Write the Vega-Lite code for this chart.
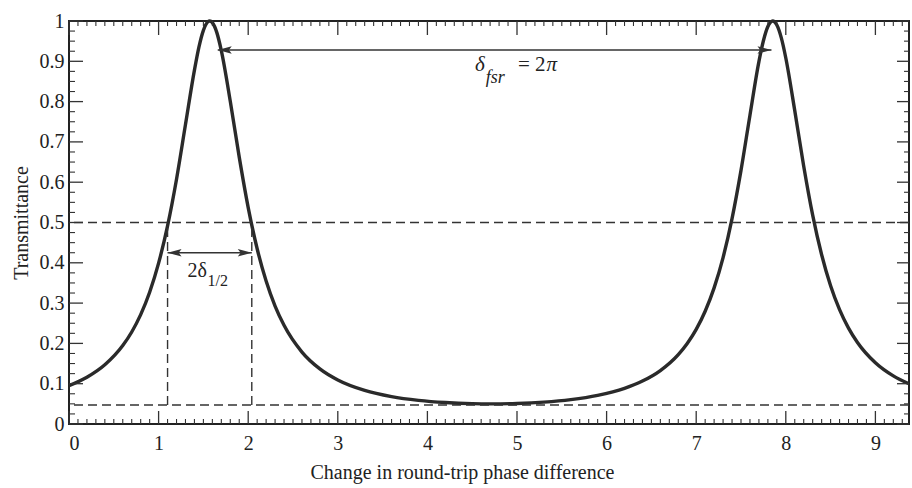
{
  "$schema": "https://vega.github.io/schema/vega-lite/v6.json",
  "width": 840,
  "height": 403,
  "autosize": {"type": "none"},
  "padding": {"left": 69, "top": 21, "right": 3, "bottom": 64},
  "background": "white",
  "config": {
    "view": {"stroke": "#222", "strokeWidth": 2},
    "axis": {
      "domain": false,
      "grid": false,
      "ticks": false,
      "labelFont": "Liberation Serif",
      "titleFont": "Liberation Serif",
      "labelColor": "#222",
      "titleColor": "#222",
      "labelFontSize": 20,
      "titleFontSize": 20,
      "titleFontWeight": "normal"
    }
  },
  "datasets": {
    "curve": [
      {"x": 0, "t": 0.0952}, {"x": 0.2, "t": 0.1161}, {"x": 0.4, "t": 0.147}, {"x": 0.6, "t": 0.1947},
      {"x": 0.7, "t": 0.2283}, {"x": 0.8, "t": 0.2714}, {"x": 0.9, "t": 0.3269}, {"x": 1.0, "t": 0.3991},
      {"x": 1.1, "t": 0.4917}, {"x": 1.2, "t": 0.6075}, {"x": 1.3, "t": 0.7431}, {"x": 1.4, "t": 0.8782},
      {"x": 1.45, "t": 0.9352}, {"x": 1.5, "t": 0.9768}, {"x": 1.55, "t": 0.9979}, {"x": 1.5708, "t": 1},
      {"x": 1.6, "t": 0.9959}, {"x": 1.65, "t": 0.9712}, {"x": 1.7, "t": 0.9266}, {"x": 1.8, "t": 0.801},
      {"x": 1.9, "t": 0.6622}, {"x": 2.0, "t": 0.5371}, {"x": 2.1, "t": 0.4349}, {"x": 2.2, "t": 0.3547},
      {"x": 2.3, "t": 0.2927}, {"x": 2.4, "t": 0.2449}, {"x": 2.6, "t": 0.1785}, {"x": 2.8, "t": 0.1367},
      {"x": 3.0, "t": 0.1092}, {"x": 3.3, "t": 0.0833}, {"x": 3.6, "t": 0.068}, {"x": 3.9, "t": 0.0587},
      {"x": 4.2, "t": 0.0532}, {"x": 4.5, "t": 0.0505}, {"x": 4.712, "t": 0.05}, {"x": 5.0, "t": 0.051},
      {"x": 5.3, "t": 0.0543}, {"x": 5.6, "t": 0.0606}, {"x": 5.9, "t": 0.0712}, {"x": 6.2, "t": 0.0886},
      {"x": 6.4, "t": 0.1065}, {"x": 6.6, "t": 0.1326}, {"x": 6.8, "t": 0.1722}, {"x": 6.9, "t": 0.1998},
      {"x": 7.0, "t": 0.2348}, {"x": 7.1, "t": 0.2798}, {"x": 7.2, "t": 0.3378}, {"x": 7.3, "t": 0.413},
      {"x": 7.4, "t": 0.5096}, {"x": 7.5, "t": 0.6293}, {"x": 7.6, "t": 0.7663}, {"x": 7.7, "t": 0.8992},
      {"x": 7.75, "t": 0.9509}, {"x": 7.8, "t": 0.9863}, {"x": 7.854, "t": 1}, {"x": 7.9, "t": 0.99},
      {"x": 7.95, "t": 0.958}, {"x": 8.0, "t": 0.9082}, {"x": 8.1, "t": 0.7776}, {"x": 8.2, "t": 0.6398},
      {"x": 8.3, "t": 0.5183}, {"x": 8.4, "t": 0.4199}, {"x": 8.5, "t": 0.3431}, {"x": 8.6, "t": 0.2838},
      {"x": 8.7, "t": 0.238}, {"x": 8.8, "t": 0.2023}, {"x": 9.0, "t": 0.1519}, {"x": 9.2, "t": 0.1193},
      {"x": 9.375, "t": 0.0997}
    ],
    "xMajor": [{"v": 0}, {"v": 1}, {"v": 2}, {"v": 3}, {"v": 4}, {"v": 5}, {"v": 6}, {"v": 7}, {"v": 8}, {"v": 9}],
    "xMinor": [
      {"v": 0.1}, {"v": 0.2}, {"v": 0.3}, {"v": 0.4}, {"v": 0.5}, {"v": 0.6}, {"v": 0.7}, {"v": 0.8}, {"v": 0.9},
      {"v": 1.1}, {"v": 1.2}, {"v": 1.3}, {"v": 1.4}, {"v": 1.5}, {"v": 1.6}, {"v": 1.7}, {"v": 1.8}, {"v": 1.9},
      {"v": 2.1}, {"v": 2.2}, {"v": 2.3}, {"v": 2.4}, {"v": 2.5}, {"v": 2.6}, {"v": 2.7}, {"v": 2.8}, {"v": 2.9},
      {"v": 3.1}, {"v": 3.2}, {"v": 3.3}, {"v": 3.4}, {"v": 3.5}, {"v": 3.6}, {"v": 3.7}, {"v": 3.8}, {"v": 3.9},
      {"v": 4.1}, {"v": 4.2}, {"v": 4.3}, {"v": 4.4}, {"v": 4.5}, {"v": 4.6}, {"v": 4.7}, {"v": 4.8}, {"v": 4.9},
      {"v": 5.1}, {"v": 5.2}, {"v": 5.3}, {"v": 5.4}, {"v": 5.5}, {"v": 5.6}, {"v": 5.7}, {"v": 5.8}, {"v": 5.9},
      {"v": 6.1}, {"v": 6.2}, {"v": 6.3}, {"v": 6.4}, {"v": 6.5}, {"v": 6.6}, {"v": 6.7}, {"v": 6.8}, {"v": 6.9},
      {"v": 7.1}, {"v": 7.2}, {"v": 7.3}, {"v": 7.4}, {"v": 7.5}, {"v": 7.6}, {"v": 7.7}, {"v": 7.8}, {"v": 7.9},
      {"v": 8.1}, {"v": 8.2}, {"v": 8.3}, {"v": 8.4}, {"v": 8.5}, {"v": 8.6}, {"v": 8.7}, {"v": 8.8}, {"v": 8.9},
      {"v": 9.1}, {"v": 9.2}, {"v": 9.3}
    ],
    "yMajor": [{"v": 0}, {"v": 0.1}, {"v": 0.2}, {"v": 0.3}, {"v": 0.4}, {"v": 0.5}, {"v": 0.6}, {"v": 0.7}, {"v": 0.8}, {"v": 0.9}, {"v": 1}],
    "yMinor": [
      {"v": 0.025}, {"v": 0.05}, {"v": 0.075}, {"v": 0.125}, {"v": 0.15}, {"v": 0.175}, {"v": 0.225}, {"v": 0.25}, {"v": 0.275},
      {"v": 0.325}, {"v": 0.35}, {"v": 0.375}, {"v": 0.425}, {"v": 0.45}, {"v": 0.475}, {"v": 0.525}, {"v": 0.55}, {"v": 0.575},
      {"v": 0.625}, {"v": 0.65}, {"v": 0.675}, {"v": 0.725}, {"v": 0.75}, {"v": 0.775}, {"v": 0.825}, {"v": 0.85}, {"v": 0.875},
      {"v": 0.925}, {"v": 0.95}, {"v": 0.975}
    ],
    "hlines": [{"y": 0.5}, {"y": 0.047}],
    "vlines": [{"x": 1.1, "y": 0.047, "y2": 0.5}, {"x": 2.04, "y": 0.047, "y2": 0.5}],
    "arrows": [{"x": 1.66, "x2": 7.84, "y": 0.928}, {"x": 1.1, "x2": 2.04, "y": 0.425}],
    "headsLeft": [{"x": 1.66, "y": 0.928}, {"x": 1.1, "y": 0.425}],
    "headsRight": [{"x": 7.84, "y": 0.928}, {"x": 2.04, "y": 0.425}],
    "mainItalic": [{"x": 4.53, "y": 0.876, "s": "δ"}, {"x": 5.33, "y": 0.876, "s": "π"}],
    "subItalic": [{"x": 4.65, "y": 0.845, "s": "fsr"}],
    "mainText": [{"x": 5.011, "y": 0.876, "s": "= 2"}],
    "halfMain": [{"x": 1.54, "y": 0.365, "s": "2δ"}],
    "halfSub": [{"x": 1.545, "y": 0.342, "s": "1/2"}]
  },
  "layer": [
    {
      "data": {"name": "curve"},
      "mark": {"type": "line", "interpolate": "monotone", "strokeWidth": 3.4, "color": "#2a2a2a"},
      "encoding": {
        "x": {
          "field": "x", "type": "quantitative",
          "scale": {"domain": [0, 9.375], "nice": false, "zero": false},
          "axis": {
            "orient": "bottom", "values": [0, 1, 2, 3, 4, 5, 6, 7, 8, 9], "labelPadding": 9,
            "title": "Change in round-trip phase difference", "titleX": 393, "titleY": 54,
            "titleBaseline": "alphabetic", "titleAlign": "center"
          }
        },
        "y": {
          "field": "t", "type": "quantitative",
          "scale": {"domain": [0, 1], "nice": false, "zero": false},
          "axis": {
            "orient": "left", "values": [0, 0.1, 0.2, 0.3, 0.4, 0.5, 0.6, 0.7, 0.8, 0.9, 1],
            "labelPadding": 5, "format": "~g",
            "title": "Transmittance", "titleX": -42, "titleY": 201.5, "titleAngle": 270,
            "titleBaseline": "alphabetic", "titleAlign": "center"
          }
        }
      }
    },
    {
      "data": {"name": "xMajor"},
      "mark": {"type": "tick", "orient": "vertical", "size": 13, "thickness": 1.3, "yOffset": -6.5, "color": "#333", "opacity": 1},
      "encoding": {
        "x": {"field": "v", "type": "quantitative", "scale": {"domain": [0, 9.375], "nice": false, "zero": false}, "axis": null},
        "y": {"datum": 0, "type": "quantitative", "scale": {"domain": [0, 1], "nice": false, "zero": false}, "axis": null}
      }
    },
    {
      "data": {"name": "xMajor"},
      "mark": {"type": "tick", "orient": "vertical", "size": 14, "thickness": 1.3, "yOffset": 7, "color": "#333", "opacity": 1},
      "encoding": {
        "x": {"field": "v", "type": "quantitative", "scale": {"domain": [0, 9.375], "nice": false, "zero": false}, "axis": null},
        "y": {"datum": 1, "type": "quantitative", "scale": {"domain": [0, 1], "nice": false, "zero": false}, "axis": null}
      }
    },
    {
      "data": {"name": "xMinor"},
      "mark": {"type": "tick", "orient": "vertical", "size": 5, "thickness": 1.1, "yOffset": -2.5, "color": "#333", "opacity": 1},
      "encoding": {
        "x": {"field": "v", "type": "quantitative", "scale": {"domain": [0, 9.375], "nice": false, "zero": false}, "axis": null},
        "y": {"datum": 0, "type": "quantitative", "scale": {"domain": [0, 1], "nice": false, "zero": false}, "axis": null}
      }
    },
    {
      "data": {"name": "xMinor"},
      "mark": {"type": "tick", "orient": "vertical", "size": 5, "thickness": 1.1, "yOffset": 2.5, "color": "#333", "opacity": 1},
      "encoding": {
        "x": {"field": "v", "type": "quantitative", "scale": {"domain": [0, 9.375], "nice": false, "zero": false}, "axis": null},
        "y": {"datum": 1, "type": "quantitative", "scale": {"domain": [0, 1], "nice": false, "zero": false}, "axis": null}
      }
    },
    {
      "data": {"name": "yMajor"},
      "mark": {"type": "tick", "orient": "horizontal", "size": 14, "thickness": 1.3, "xOffset": 7, "color": "#333", "opacity": 1},
      "encoding": {
        "y": {"field": "v", "type": "quantitative", "scale": {"domain": [0, 1], "nice": false, "zero": false}, "axis": null},
        "x": {"datum": 0, "type": "quantitative", "scale": {"domain": [0, 9.375], "nice": false, "zero": false}, "axis": null}
      }
    },
    {
      "data": {"name": "yMajor"},
      "mark": {"type": "tick", "orient": "horizontal", "size": 12, "thickness": 1.3, "xOffset": -6, "color": "#333", "opacity": 1},
      "encoding": {
        "y": {"field": "v", "type": "quantitative", "scale": {"domain": [0, 1], "nice": false, "zero": false}, "axis": null},
        "x": {"datum": 9.375, "type": "quantitative", "scale": {"domain": [0, 9.375], "nice": false, "zero": false}, "axis": null}
      }
    },
    {
      "data": {"name": "yMinor"},
      "mark": {"type": "tick", "orient": "horizontal", "size": 6, "thickness": 1.1, "xOffset": 3, "color": "#333", "opacity": 1},
      "encoding": {
        "y": {"field": "v", "type": "quantitative", "scale": {"domain": [0, 1], "nice": false, "zero": false}, "axis": null},
        "x": {"datum": 0, "type": "quantitative", "scale": {"domain": [0, 9.375], "nice": false, "zero": false}, "axis": null}
      }
    },
    {
      "data": {"name": "yMinor"},
      "mark": {"type": "tick", "orient": "horizontal", "size": 5, "thickness": 1.1, "xOffset": -2.5, "color": "#333", "opacity": 1},
      "encoding": {
        "y": {"field": "v", "type": "quantitative", "scale": {"domain": [0, 1], "nice": false, "zero": false}, "axis": null},
        "x": {"datum": 9.375, "type": "quantitative", "scale": {"domain": [0, 9.375], "nice": false, "zero": false}, "axis": null}
      }
    },
    {
      "data": {"name": "hlines"},
      "mark": {"type": "rule", "strokeDash": [9, 5], "strokeWidth": 1.4, "color": "#333"},
      "encoding": {
        "y": {"field": "y", "type": "quantitative", "scale": {"domain": [0, 1], "nice": false, "zero": false}, "axis": null}
      }
    },
    {
      "data": {"name": "vlines"},
      "mark": {"type": "rule", "strokeDash": [9, 5], "strokeWidth": 1.4, "color": "#333"},
      "encoding": {
        "x": {"field": "x", "type": "quantitative", "scale": {"domain": [0, 9.375], "nice": false, "zero": false}, "axis": null},
        "y": {"field": "y", "type": "quantitative", "scale": {"domain": [0, 1], "nice": false, "zero": false}, "axis": null},
        "y2": {"field": "y2"}
      }
    },
    {
      "data": {"name": "arrows"},
      "mark": {"type": "rule", "strokeWidth": 1.4, "color": "#333"},
      "encoding": {
        "x": {"field": "x", "type": "quantitative", "scale": {"domain": [0, 9.375], "nice": false, "zero": false}, "axis": null},
        "x2": {"field": "x2"},
        "y": {"field": "y", "type": "quantitative", "scale": {"domain": [0, 1], "nice": false, "zero": false}, "axis": null}
      }
    },
    {
      "data": {"name": "headsLeft"},
      "mark": {"type": "point", "shape": "M0,0L2,-0.55L1.6,0L2,0.55Z", "size": 196, "filled": true, "color": "#333", "opacity": 1},
      "encoding": {
        "x": {"field": "x", "type": "quantitative", "scale": {"domain": [0, 9.375], "nice": false, "zero": false}, "axis": null},
        "y": {"field": "y", "type": "quantitative", "scale": {"domain": [0, 1], "nice": false, "zero": false}, "axis": null}
      }
    },
    {
      "data": {"name": "headsRight"},
      "mark": {"type": "point", "shape": "M0,0L-2,-0.55L-1.6,0L-2,0.55Z", "size": 196, "filled": true, "color": "#333", "opacity": 1},
      "encoding": {
        "x": {"field": "x", "type": "quantitative", "scale": {"domain": [0, 9.375], "nice": false, "zero": false}, "axis": null},
        "y": {"field": "y", "type": "quantitative", "scale": {"domain": [0, 1], "nice": false, "zero": false}, "axis": null}
      }
    },
    {
      "data": {"name": "mainItalic"},
      "mark": {"type": "text", "font": "Liberation Serif", "fontSize": 21, "fontStyle": "italic", "align": "left", "baseline": "alphabetic", "color": "#222"},
      "encoding": {
        "x": {"field": "x", "type": "quantitative", "scale": {"domain": [0, 9.375], "nice": false, "zero": false}, "axis": null},
        "y": {"field": "y", "type": "quantitative", "scale": {"domain": [0, 1], "nice": false, "zero": false}, "axis": null},
        "text": {"field": "s"}
      }
    },
    {
      "data": {"name": "subItalic"},
      "mark": {"type": "text", "font": "Liberation Serif", "fontSize": 18, "fontStyle": "italic", "align": "left", "baseline": "alphabetic", "color": "#222"},
      "encoding": {
        "x": {"field": "x", "type": "quantitative", "scale": {"domain": [0, 9.375], "nice": false, "zero": false}, "axis": null},
        "y": {"field": "y", "type": "quantitative", "scale": {"domain": [0, 1], "nice": false, "zero": false}, "axis": null},
        "text": {"field": "s"}
      }
    },
    {
      "data": {"name": "mainText"},
      "mark": {"type": "text", "font": "Liberation Serif", "fontSize": 21, "align": "left", "baseline": "alphabetic", "color": "#222"},
      "encoding": {
        "x": {"field": "x", "type": "quantitative", "scale": {"domain": [0, 9.375], "nice": false, "zero": false}, "axis": null},
        "y": {"field": "y", "type": "quantitative", "scale": {"domain": [0, 1], "nice": false, "zero": false}, "axis": null},
        "text": {"field": "s"}
      }
    },
    {
      "data": {"name": "halfMain"},
      "mark": {"type": "text", "font": "Liberation Serif", "fontSize": 20, "align": "right", "baseline": "alphabetic", "color": "#222"},
      "encoding": {
        "x": {"field": "x", "type": "quantitative", "scale": {"domain": [0, 9.375], "nice": false, "zero": false}, "axis": null},
        "y": {"field": "y", "type": "quantitative", "scale": {"domain": [0, 1], "nice": false, "zero": false}, "axis": null},
        "text": {"field": "s"}
      }
    },
    {
      "data": {"name": "halfSub"},
      "mark": {"type": "text", "font": "Liberation Serif", "fontSize": 16, "align": "left", "baseline": "alphabetic", "color": "#222"},
      "encoding": {
        "x": {"field": "x", "type": "quantitative", "scale": {"domain": [0, 9.375], "nice": false, "zero": false}, "axis": null},
        "y": {"field": "y", "type": "quantitative", "scale": {"domain": [0, 1], "nice": false, "zero": false}, "axis": null},
        "text": {"field": "s"}
      }
    }
  ],
  "resolve": {"axis": {"x": "independent", "y": "independent"}}
}
